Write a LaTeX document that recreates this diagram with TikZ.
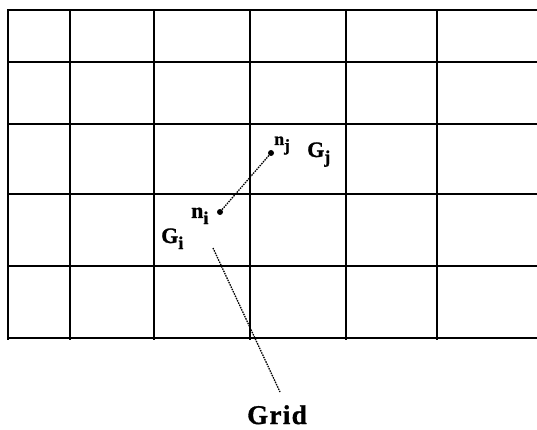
\documentclass[tikz,border=0pt]{standalone}
\usepackage{fontspec}
\setmainfont{Liberation Serif}[BoldFeatures={FakeBold=1.2}]
\begin{document}
\begin{tikzpicture}[x=1pt,y=-1pt,
  gridline/.style={line width=1.7pt,line cap=rect},
  lead/.style={dash pattern=on 1.5pt off 1pt,line width=1.3pt},
  lbl/.style={inner sep=0pt,anchor=base west,font=\bfseries\fontsize{22}{24}\selectfont},
  dotn/.style={circle,fill=black,inner sep=0pt,minimum size=6pt}]
\useasboundingbox (0,0) rectangle (537,430);
% horizontal lines
\foreach \y in {10,62,124,194,266,338}
  \draw[gridline] (8,\y) -- (537,\y);
% vertical lines
\foreach \x in {8,70,154,250,346,437}
  \draw[gridline] (\x,10) -- (\x,339);
% points
\node[dotn] (ni) at (220,212) {};
\node[dotn] (nj) at (271,153) {};
\draw[lead] (ni) -- (nj);
% labels
\node[lbl] (lni) at (191,218) {n\raisebox{-6pt}{\fontsize{18}{18}\selectfont i}};
\node[lbl,font=\bfseries\fontsize{18}{20}\selectfont] (lnj) at (274,145) {n\raisebox{-6pt}{\fontsize{17}{17}\selectfont j}};
\node[lbl] (lgi) at (161,243) {G\raisebox{-6pt}{\fontsize{18}{18}\selectfont i}};
\node[lbl] (lgj) at (307,157) {G\raisebox{-6pt}{\fontsize{18}{18}\selectfont j}};
% Grid label
\coordinate (gs) at (213,248);
\coordinate (ge) at (280,392);
\draw[lead] (gs) -- (ge);
\node[lbl,font=\bfseries\fontsize{27}{30}\selectfont\addfontfeature{LetterSpace=5}] (grid) at (247,424) {Grid};
\end{tikzpicture}
\end{document}
